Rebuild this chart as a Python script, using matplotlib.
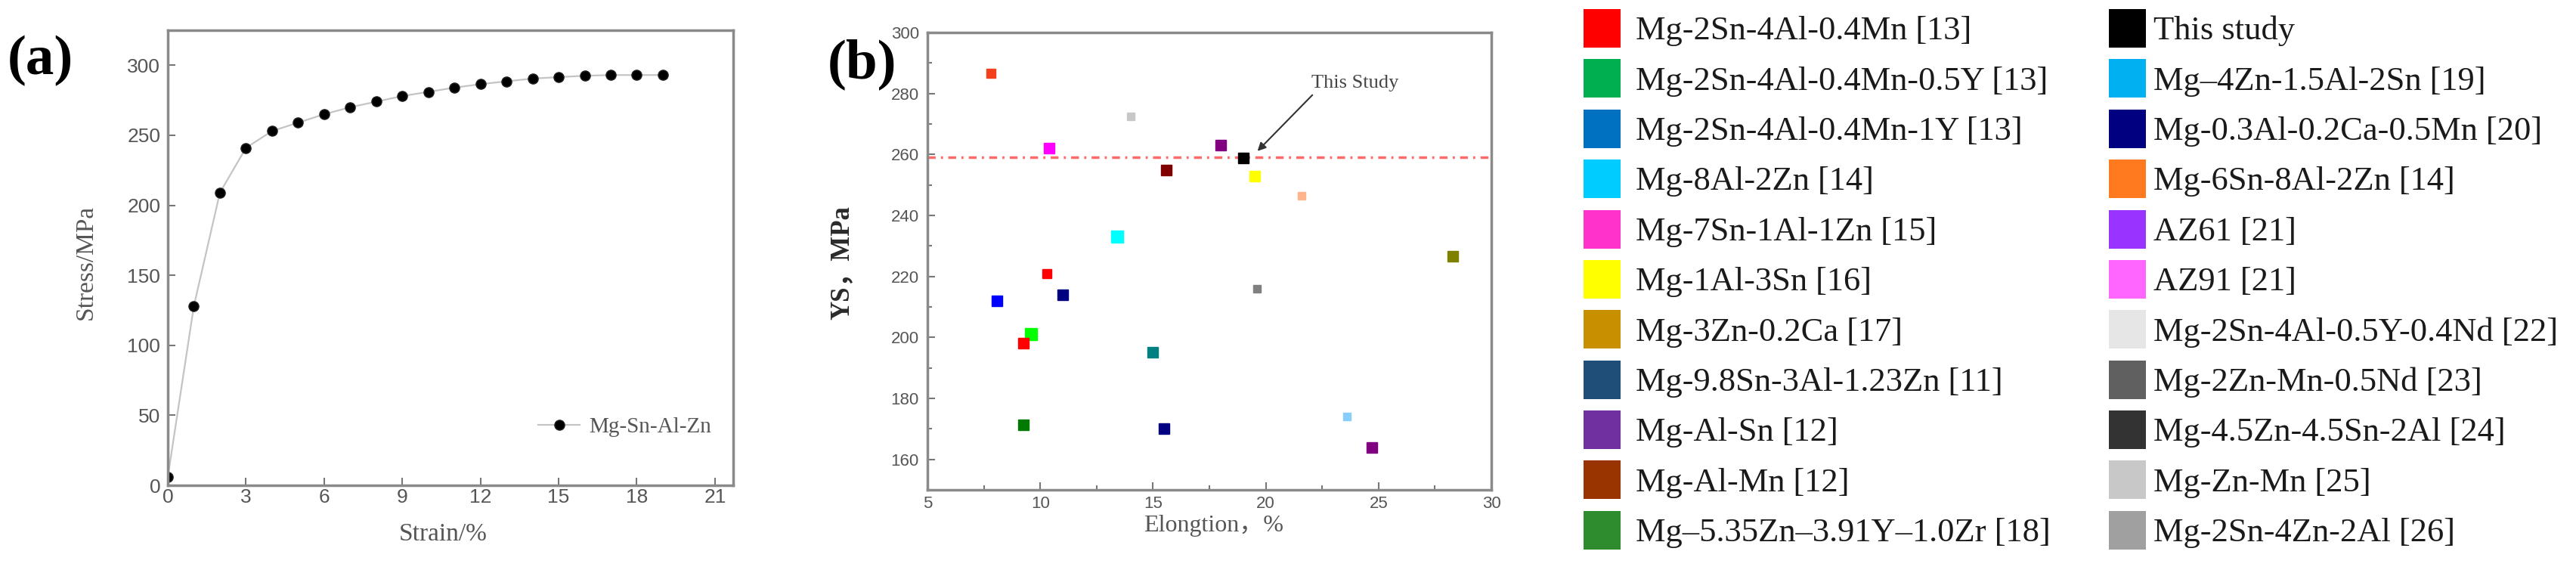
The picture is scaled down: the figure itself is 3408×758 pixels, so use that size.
import matplotlib
matplotlib.use("Agg")
import matplotlib.pyplot as plt
from matplotlib.patches import Patch
from matplotlib.ticker import MultipleLocator

# (a) tensile curve of the Mg-Sn-Al-Zn alloy
strain = [0, 1, 2, 3, 4, 5, 6, 7, 8, 9, 10, 11, 12, 13, 14, 15, 16, 17, 18, 19]
stress = [6, 128, 209, 241, 253, 259, 265, 270, 274, 278, 281, 284, 286.5, 288.5,
          290.5, 291.5, 292.5, 293, 293, 293]
curve_label = "Mg-Sn-Al-Zn"

# (b) yield strength vs elongation, literature comparison
elong = [7.8, 14.0, 10.4, 18.0, 19.0, 15.6, 19.5, 21.6, 13.4, 28.3, 10.3,
         19.6, 8.07, 11.0, 9.6, 9.27, 15.0, 9.27, 15.5, 23.6, 24.7]
ys = [286.5, 272.5, 262.0, 263.0, 258.8, 255.0, 253.0, 246.5, 233.0, 226.5, 221.0,
      216.0, 212.0, 214.0, 201.0, 198.0, 195.0, 171.2, 170.0, 174.0, 164.0]
point_colors = ["#f4401c", "#c8c8c8", "#ff00ff", "#800080", "#000000", "#800000",
                "#ffff00", "#ffb48c", "#00ffff", "#808000", "#ff0000", "#808080",
                "#0000ff", "#000080", "#00ff00", "#ff0000", "#008080", "#007a00",
                "#000080", "#87cefa", "#800080"]
this_study_ys = 259
this_study_point = (19.63, 261.1)
this_study_text = (23.96, 283.4)

legend_left_labels = ["Mg-2Sn-4Al-0.4Mn [13]", "Mg-2Sn-4Al-0.4Mn-0.5Y [13]",
                      "Mg-2Sn-4Al-0.4Mn-1Y [13]", "Mg-8Al-2Zn [14]",
                      "Mg-7Sn-1Al-1Zn [15]", "Mg-1Al-3Sn [16]", "Mg-3Zn-0.2Ca [17]",
                      "Mg-9.8Sn-3Al-1.23Zn [11]", "Mg-Al-Sn [12]", "Mg-Al-Mn [12]",
                      "Mg\u20135.35Zn\u20133.91Y\u20131.0Zr [18]"]
legend_left_colors = ["#ff0000", "#00b050", "#0070c0", "#00ccff", "#ff33cc", "#ffff00",
                      "#c89000", "#1f4e79", "#7030a0", "#993300", "#2e8b2e"]
legend_right_labels = ["This study", "Mg\u20134Zn-1.5Al-2Sn [19]",
                       "Mg-0.3Al-0.2Ca-0.5Mn [20]", "Mg-6Sn-8Al-2Zn [14]", "AZ61 [21]",
                       "AZ91 [21]", "Mg-2Sn-4Al-0.5Y-0.4Nd [22]", "Mg-2Zn-Mn-0.5Nd [23]",
                       "Mg-4.5Zn-4.5Sn-2Al [24]", "Mg-Zn-Mn [25]", "Mg-2Sn-4Zn-2Al [26]"]
legend_right_colors = ["#000000", "#00b0f0", "#000080", "#ff7a1f", "#9933ff", "#ff66ff",
                       "#e6e6e6", "#606060", "#333333", "#c8c8c8", "#a0a0a0"]

# marker sizes for panel (b), some points are drawn a bit bigger/smaller
point_sizes = [8, 7, 9.5, 9.5, 10, 9.5, 9.5, 7, 12, 9.5, 9,
               7, 10, 10, 12, 9.5, 10, 9.5, 9.5, 7, 9.5]

plt.rcParams["font.family"] = ["Liberation Serif", "Noto Sans CJK SC"]
tick_font = "Liberation Sans"

fig = plt.figure(figsize=(34.08, 7.58), dpi=100)
ax1 = fig.add_axes([0.06514, 0.15303, 0.21948, 0.7942])
ax2 = fig.add_axes([0.36004, 0.14512, 0.2189, 0.79815])

for ax in (ax1, ax2):
    for sp in ax.spines.values():
        sp.set_color("#8a8a8a")
        sp.set_linewidth(2.5)

#%% panel (a)
ax1.plot(strain, stress, color="#c4c4c4", lw=1.6, marker="o", ms=9.5,
         mfc="black", mec="#222222", label=curve_label)
ax1.set_xlim(0, 21.7)
ax1.set_ylim(0, 325)
ax1.xaxis.set_major_locator(MultipleLocator(3))
ax1.yaxis.set_major_locator(MultipleLocator(50))
ax1.tick_params(axis="both", direction="in", length=7, width=1.5, color="#777777",
                labelsize=19, labelcolor="#555555")
ax1.tick_params(axis="y", pad=7)
ax1.tick_params(axis="x", pad=3)
ax1.set_xlabel("Strain/%", fontsize=24, color="#555555")
ax1.set_ylabel("Stress/MPa", fontsize=24, color="#555555")
ax1.xaxis.set_label_coords(0.487, -0.083)
ax1.yaxis.set_label_coords(-0.124, 0.49)
ax1.legend(loc="center left", bbox_to_anchor=(0.655, 0.128), frameon=False,
           fontsize=21, handlelength=1.9, handletextpad=0.4, borderpad=0,
           borderaxespad=0, labelcolor="#555555")

#%% panel (b)
ax2.axhline(this_study_ys, color="#ff6a6a", lw=2.5, ls=(0, (3, 2, 0.8, 2)), zorder=1)
for x, y, c, s in zip(elong, ys, point_colors, point_sizes):
    ax2.plot(x, y, marker="s", ms=s, color=c, mec=c, ls="none", zorder=3)
ax2.annotate("This Study", xy=this_study_point, xytext=this_study_text,
             ha="center", va="center", fontsize=19, color="#444444",
             arrowprops=dict(arrowstyle="-|>", color="#333333", lw=1.5,
                             mutation_scale=16, shrinkA=2, shrinkB=0,
                             relpos=(0.05, 0.0)))
ax2.set_xlim(5, 30)
ax2.set_ylim(150, 300)
ax2.xaxis.set_major_locator(MultipleLocator(5))
ax2.xaxis.set_minor_locator(MultipleLocator(2.5))
ax2.yaxis.set_major_locator(MultipleLocator(20))
ax2.yaxis.set_minor_locator(MultipleLocator(10))
ax2.set_yticks([160, 180, 200, 220, 240, 260, 280, 300])
ax2.tick_params(axis="both", which="major", direction="in", length=7, width=1.5,
                color="#777777", labelsize=16, labelcolor="#555555")
ax2.tick_params(axis="both", which="minor", direction="in", length=4, width=1.5,
                color="#777777")
ax2.tick_params(axis="y", pad=8)
ax2.tick_params(axis="x", pad=6)
ax2.set_xlabel("Elongtion\uff0c%", fontsize=23, color="#555555")
ax2.set_ylabel("YS\uff0cMPa", fontsize=25, color="#2a2a2a", fontweight="bold")
ax2.xaxis.set_label_coords(0.507, -0.055)
ax2.yaxis.set_label_coords(-0.130, 0.496)

for ax in (ax1, ax2):
    for lbl in ax.get_xticklabels() + ax.get_yticklabels():
        lbl.set_fontfamily(tick_font)

fig.text(10 / 3408, 1 - 80 / 758, "(a)", fontsize=54, fontweight="bold", va="center")
fig.text(1095 / 3408, 1 - 85 / 758, "(b)", fontsize=54, fontweight="bold", va="center")

#%% colour key on the right
left_handles = [Patch(facecolor=c, edgecolor="none") for c in legend_left_colors]
right_handles = [Patch(facecolor=c, edgecolor="none") for c in legend_right_colors]
leg_kw = dict(loc="upper left", frameon=False, fontsize=32, handlelength=1.10,
              handleheight=1.39, labelspacing=0.345, borderpad=0, borderaxespad=0,
              labelcolor="#1a1a1a")
leg1 = fig.legend(left_handles, legend_left_labels, bbox_to_anchor=(2095 / 3408, 1 - 12 / 758),
                  handletextpad=0.45, **leg_kw)
leg2 = fig.legend(right_handles, legend_right_labels, bbox_to_anchor=(2790 / 3408, 1 - 12 / 758),
                  handletextpad=0.22, **leg_kw)

fig.savefig("out.png", dpi=100, facecolor="white")
